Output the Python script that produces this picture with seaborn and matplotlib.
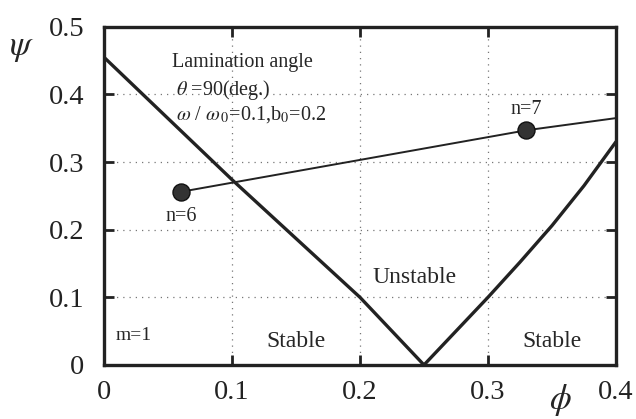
import numpy as np
import pandas as pd
import seaborn as sns
import matplotlib.pyplot as plt

sns.set_style("ticks")
plt.rcParams['font.family'] = ['Liberation Serif', 'DejaVu Serif']
plt.rcParams['mathtext.fontset'] = 'stix'

# stability boundary (V shape)
left_phi = [0.0, 0.1, 0.2, 0.25]
left_psi = [0.455, 0.274, 0.1, 0.0]
right_phi = [0.25, 0.3, 0.325, 0.35, 0.375, 0.4]
right_psi = [0.0, 0.1, 0.152, 0.206, 0.265, 0.33]

# mode line n=6 -> n=7
mode_phi = [0.06, 0.33, 0.4]
mode_psi = [0.256, 0.347, 0.365]
pts_phi = [0.06, 0.33]
pts_psi = [0.256, 0.347]
pts_lab = ["n=6", "n=7"]

fig = plt.figure(figsize=(6.36, 4.19), dpi=100)
ax = fig.add_axes([0.1635, 0.129, 0.805, 0.807])

bound = pd.DataFrame({"phi": left_phi + right_phi, "psi": left_psi + right_psi,
                      "seg": ["l"] * len(left_phi) + ["r"] * len(right_phi)})
sns.lineplot(data=bound, x="phi", y="psi", units="seg", estimator=None, sort=False,
             color="#222222", lw=2.4, ax=ax)
sns.lineplot(x=mode_phi, y=mode_psi, sort=False, estimator=None, color="#222222", lw=1.4, ax=ax)
sns.scatterplot(x=pts_phi, y=pts_psi, s=150, color="#333333", edgecolor="#111111",
                linewidth=1, zorder=5, ax=ax)

ax.set_xlim(0, 0.4)
ax.set_ylim(0, 0.5)
ax.set_xticks([0, 0.1, 0.2, 0.3, 0.4])
ax.set_yticks([0, 0.1, 0.2, 0.3, 0.4, 0.5])
ax.set_xticklabels(["0", "0.1", "0.2", "0.3", "0.4"])
ax.set_yticklabels(["0", "0.1", "0.2", "0.3", "0.4", "0.5"])
ax.tick_params(direction="in", length=7, width=2, labelsize=20.5,
               top=True, right=True, colors="#222222")
ax.tick_params(axis="y", pad=14)
ax.tick_params(axis="x", pad=11)
for sp in ax.spines.values():
    sp.set_linewidth(2.4)
    sp.set_color("#222222")
ax.grid(True, linestyle=(0, (1, 4)), color="#777777", lw=0.9)
ax.set_xlabel("")
ax.set_ylabel("")

fig.text(22 / 636, 1 - 48 / 419, r"$\psi$", fontsize=25, ha="center", va="center")
fig.text(560 / 636, 1 - 400 / 419, r"$\phi$", fontsize=25, ha="center", va="center")

ax.text(0.053, 0.447, "Lamination angle", fontsize=14.5, ha="left", va="center")
ax.text(0.056, 0.407, r"$\theta$ =90(deg.)", fontsize=14.5, ha="left", va="center")
ax.text(0.056, 0.370, r"$\omega$ / $\omega_{\,0}$=0.1,b$_0$=0.2", fontsize=14.5, ha="left", va="center")

ax.text(pts_phi[0], 0.219, pts_lab[0], fontsize=14.5, ha="center", va="center")
ax.text(pts_phi[1], 0.377, pts_lab[1], fontsize=14.5, ha="center", va="center")

ax.text(0.243, 0.13, "Unstable", fontsize=17, ha="center", va="center")
ax.text(0.150, 0.035, "Stable", fontsize=17, ha="center", va="center")
ax.text(0.350, 0.035, "Stable", fontsize=17, ha="center", va="center")
ax.text(0.009, 0.044, "m=1", fontsize=14, ha="left", va="center")

fig.savefig("out.png", dpi=100)
